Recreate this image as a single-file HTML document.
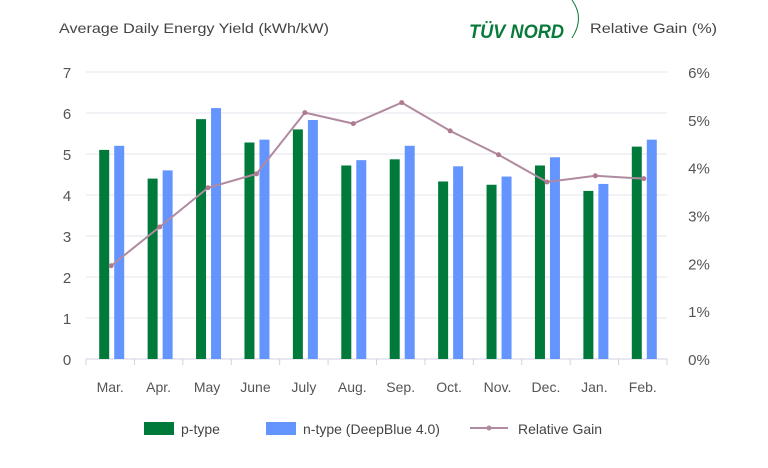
<!DOCTYPE html>
<html><head><meta charset="utf-8"><style>
body{margin:0;background:#fff;}
svg{display:block;font-family:"Liberation Sans",sans-serif;}
</style></head><body>
<svg width="768" height="468" viewBox="0 0 768 468">
<text x="59" y="33" font-size="14" fill="#444" textLength="270" lengthAdjust="spacingAndGlyphs">Average Daily Energy Yield  (kWh/kW)</text>
<text x="590" y="33" font-size="14" fill="#444" textLength="127" lengthAdjust="spacingAndGlyphs">Relative Gain  (%)</text>
<text x="469" y="38" font-size="19" font-weight="bold" font-style="italic" fill="#0a7a3a" textLength="95" lengthAdjust="spacingAndGlyphs">TÜV NORD</text>
<path d="M572,0 Q585,18 572,38" stroke="#0a7a3a" fill="none" stroke-width="1"/>
<g id="grid"></g><g id="bars"></g><g id="line"></g><g id="labels"></g>
<g>
<rect x="144" y="422" width="30" height="13" fill="#007a3a"/>
<text x="181" y="434" font-size="14" fill="#444">p-type</text>
<rect x="266" y="422" width="30" height="13" fill="#6495ff"/>
<text x="303" y="434" font-size="14" fill="#444">n-type (DeepBlue 4.0)</text>
<line x1="470" y1="428" x2="508" y2="428" stroke="#b08aa0" stroke-width="2"/>
<circle cx="489" cy="428" r="2.5" fill="#b08aa0"/>
<text x="518" y="434" font-size="14" fill="#444">Relative Gain</text>
</g>
</svg>
<script>
const categories=["Mar.","Apr.","May","June","July","Aug.","Sep.","Oct.","Nov.","Dec.","Jan.","Feb."];
const pType=[5.1,4.4,5.85,5.28,5.6,4.72,4.87,4.33,4.25,4.72,4.1,5.18];
const nType=[5.2,4.6,6.12,5.35,5.83,4.85,5.2,4.7,4.45,4.92,4.27,5.35];
const gain=[1.95,2.76,3.58,3.87,5.15,4.92,5.36,4.77,4.27,3.7,3.83,3.77];
const leftTicks=[0,1,2,3,4,5,6,7];
const rightTicks=["0%","1%","2%","3%","4%","5%","6%"];
const NS="http://www.w3.org/2000/svg";
const x0=86,x1=667,yb=359,yt=72;
const band=(x1-x0)/categories.length;
const yL=v=>yb-(yb-yt)*v/7;
const yR=v=>yb-(yb-yt)*v/6;
const cx=i=>x0+band*(i+0.5);
function mk(tag,attrs,parent){const e=document.createElementNS(NS,tag);for(const k in attrs)e.setAttribute(k,attrs[k]);document.getElementById(parent).appendChild(e);return e;}
leftTicks.forEach(t=>{
  const l=mk("line",{x1:x0,x2:x1,y1:yL(t),y2:yL(t),stroke:t===0?"#d0d0e0":"#e4e4ec","stroke-width":1},"grid");
  
  
  const tx=mk("text",{x:67,y:yL(t)+6,"font-size":15,fill:"#555","text-anchor":"middle"},"labels");tx.textContent=t;
  
  
});
rightTicks.forEach((t,i)=>{
  const tx=mk("text",{x:699,y:yR(i)+6,"font-size":15,fill:"#555","text-anchor":"middle"},"labels");tx.textContent=t;
  
  
});
for(let i=0;i<=categories.length;i++){
  const l=mk("line",{x1:x0+band*i,x2:x0+band*i,y1:yb,y2:yb+6,stroke:"#d0d0e0"},"grid");
  
  
}
categories.forEach((c,i)=>{
  const g=mk("rect",{x:cx(i)-11,y:yL(pType[i]),width:10,height:yb-yL(pType[i]),fill:"#007a3a"},"bars");
  
  
  const b=mk("rect",{x:cx(i)+4,y:yL(nType[i]),width:10,height:yb-yL(nType[i]),fill:"#6495ff"},"bars");
  
  
  const tx=mk("text",{x:cx(i),y:392,"font-size":14,fill:"#555","text-anchor":"middle"},"labels");tx.textContent=c;
  
  
});
const pl=mk("polyline",{points:gain.map((v,i)=>(cx(i)+1)+","+yR(v)).join(" "),fill:"none",stroke:"#b08aa0","stroke-width":2},"line");


gain.forEach((v,i)=>{
  const c=mk("circle",{cx:cx(i)+1,cy:yR(v),r:2.5,fill:"#b07a90"},"line");
  
  
});
</script>
</body></html>
